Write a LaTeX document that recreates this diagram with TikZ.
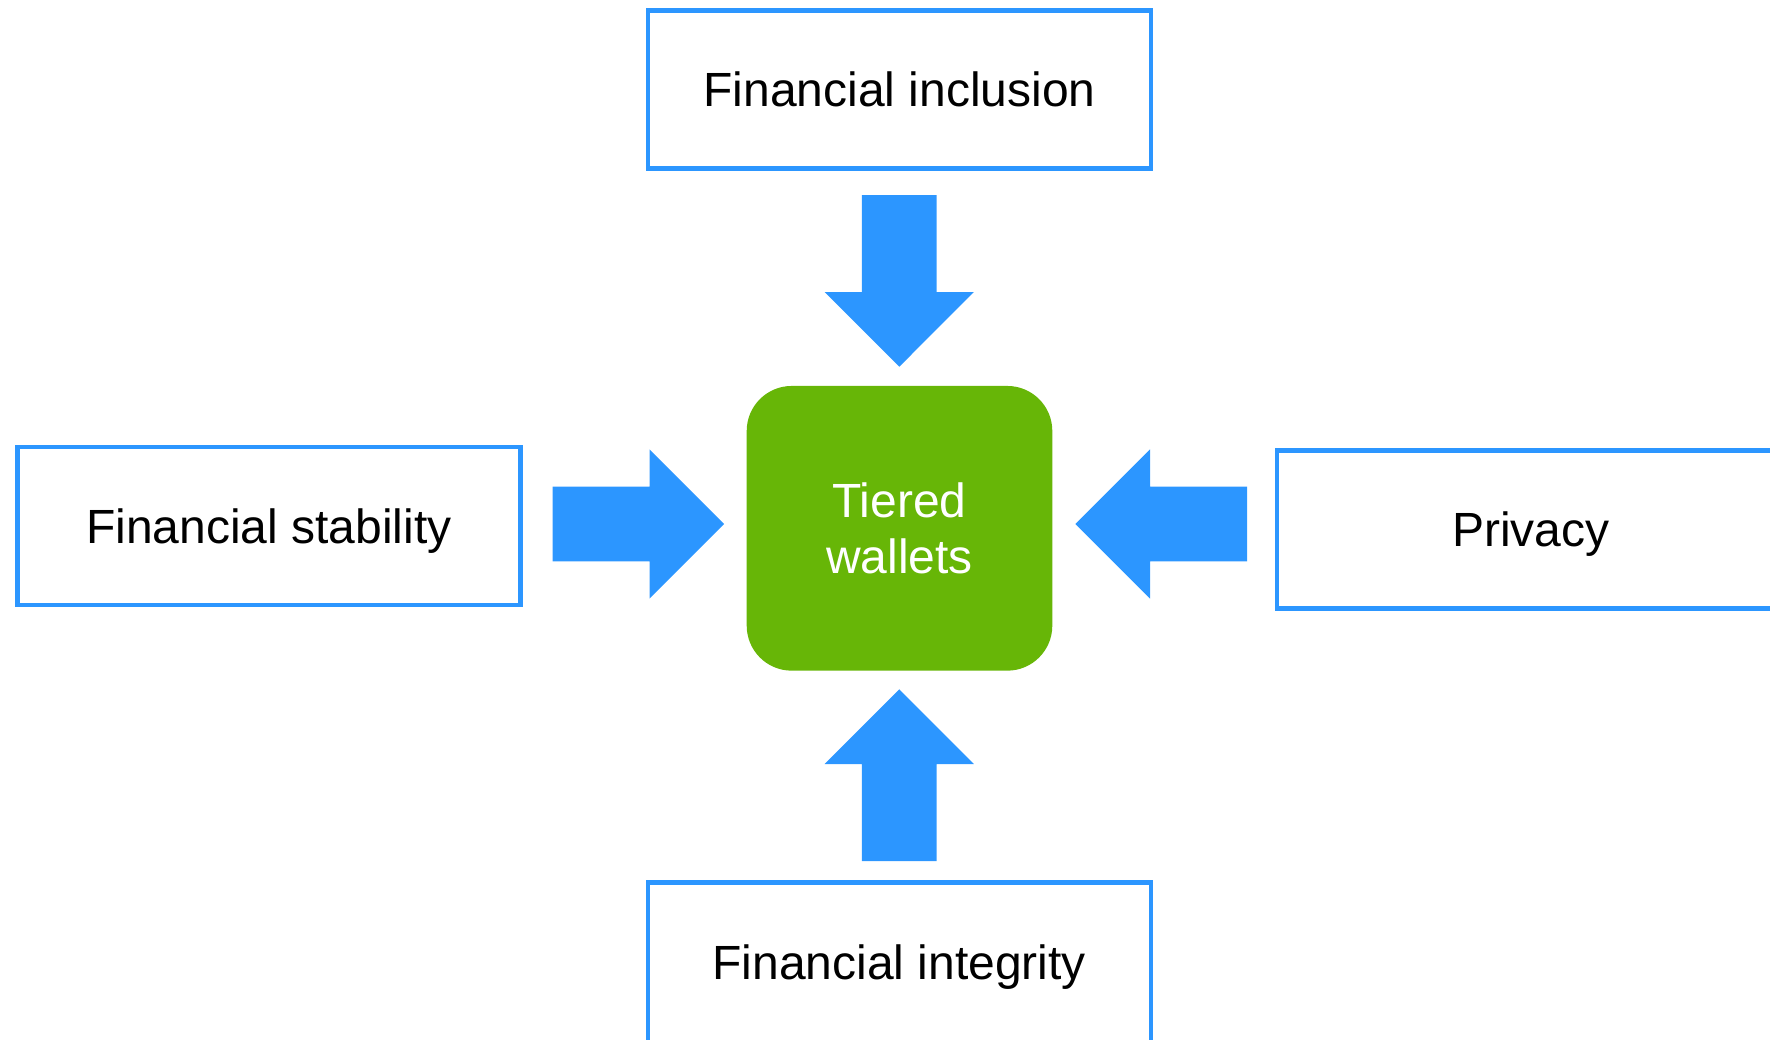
\documentclass[tikz,border=0pt]{standalone}
\usepackage{fontspec}
\setmainfont{Liberation Sans}
\definecolor{boxblue}{RGB}{44,150,255}
\definecolor{tiergreen}{RGB}{103,182,7}
\tikzset{
  topic/.style={draw=boxblue, line width=4.5pt, fill=white, inner sep=0pt,
    minimum width=503pt, minimum height=158pt, text depth=0pt,
    font=\fontsize{48}{57}\selectfont, text=black},
  centerbox/.style={fill=tiergreen, rounded corners=45pt, inner sep=0pt,
    minimum width=305.6pt, minimum height=284.7pt, align=center,
    text=white, font=\fontsize{48}{56.7}\selectfont},
  blockarrow/.pic={
    \fill[boxblue] (0,0) -- (-74.7,74.6) -- (-74.7,37.4) -- (-171.7,37.4)
      -- (-171.7,-37.4) -- (-74.7,-37.4) -- (-74.7,-74.6) -- cycle;
  }
}
\begin{document}
\begin{tikzpicture}[x=1pt,y=-1pt]
\useasboundingbox (0,0) rectangle (1770,1039);
\node[topic] (incl) at (899.5,89.4) {Financial inclusion};
\node[topic] (stab) at (268.8,526) {Financial stability};
\node[topic, minimum width=508pt] (priv) at (1531,529.5) {Privacy};
\node[topic, minimum height=168pt, text depth=9pt] (integ) at (899.3,966.7) {Financial integrity};
\node[centerbox] (tier) at (899.5,528.3) {Tiered\\wallets};
\coordinate (tipN) at (899.3,366.7);
\coordinate (tipW) at (724.2,524);
\coordinate (tipE) at (1075.3,524);
\coordinate (tipS) at (899.3,689.3);
\pic[rotate=-90] at (tipN) {blockarrow};
\pic[rotate=0] at (tipW) {blockarrow};
\pic[rotate=180] at (tipE) {blockarrow};
\pic[rotate=90] at (tipS) {blockarrow};
\end{tikzpicture}
\end{document}
